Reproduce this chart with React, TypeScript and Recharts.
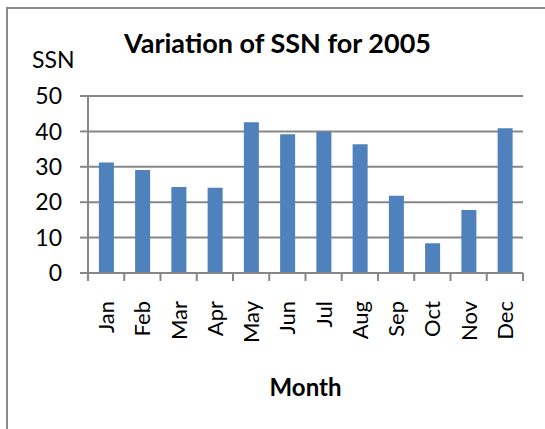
import React from 'react';
import { BarChart, Bar, XAxis, YAxis, CartesianGrid } from 'recharts';

const months = ['Jan', 'Feb', 'Mar', 'Apr', 'May', 'Jun', 'Jul', 'Aug', 'Sep', 'Oct', 'Nov', 'Dec'];
const ssn = [31.2, 29.1, 24.3, 24.1, 42.6, 39.2, 39.9, 36.4, 21.8, 8.4, 17.8, 40.9];
const yTicks = [0, 10, 20, 30, 40, 50];

const data = months.map((m, i) => ({ month: m, ssn: ssn[i] }));

const W = 545;
const H = 429;
const M = { top: 96, right: 22, left: 0, bottom: 0 };
const Y_W = 88;
const X_H = 156;
const BAND = (W - Y_W - M.right) / months.length;
const GRID = '#878787';
const FONT = 'Lato, Carlito, Calibri, sans-serif';

const XTick = (props: any) => {
  const { x, y, payload, index } = props;
  const left = x - BAND / 2;
  const right = x + BAND / 2;
  return (
    <g>
      <line x1={left} y1={y} x2={left} y2={y + 8} stroke={GRID} strokeWidth={2} />
      {index === months.length - 1 && (
        <line x1={right} y1={y} x2={right} y2={y + 8} stroke={GRID} strokeWidth={2} />
      )}
      <text
        x={x}
        y={y + 28}
        transform={`rotate(-90, ${x}, ${y + 28})`}
        textAnchor="end"
        dy="0.36em"
        fontSize={22}
        fontFamily={FONT}
        fill="#000"
      >
        {payload.value}
      </text>
    </g>
  );
};

export default function App() {
  return (
    <div style={{ position: 'fixed', left: 0, top: 0, width: W, height: H, overflow: 'hidden', background: '#fff' }}>
      <div
        style={{
          position: 'absolute',
          left: 6,
          top: 7,
          width: 700,
          height: 600,
          border: '2px solid #8a8a8a',
          boxSizing: 'border-box',
        }}
      />
      <div style={{ position: 'absolute', left: 0, top: 0 }}>
        <BarChart width={W} height={H} data={data} margin={M} barCategoryGap="30%">
          <CartesianGrid vertical={false} stroke={GRID} strokeWidth={2} />
          <XAxis
            dataKey="month"
            height={X_H}
            interval={0}
            tickLine={false}
            tickSize={0}
            tickMargin={0}
            axisLine={{ stroke: GRID, strokeWidth: 2 }}
            tick={<XTick />}
          />
          <YAxis
            width={Y_W}
            domain={[0, 50]}
            ticks={yTicks}
            interval={0}
            tickSize={8}
            tickMargin={18}
            tickLine={{ stroke: GRID, strokeWidth: 2 }}
            axisLine={{ stroke: GRID, strokeWidth: 2 }}
            tick={{ fontSize: 23, fontFamily: FONT, fill: '#000' }}
          />
          <Bar dataKey="ssn" fill="#4F81BD" isAnimationActive={false} />
        </BarChart>
      </div>
      <div style={{ position: 'absolute', left: 0, width: 545, top: 27, textAlign: 'center', paddingLeft: 10, boxSizing: 'border-box', fontFamily: FONT, fontWeight: 700, fontSize: 27, lineHeight: '32px', color: '#000' }}>
        Variation of SSN for 2005
      </div>
      <div style={{ position: 'absolute', left: 32, top: 45, fontFamily: FONT, fontSize: 23, lineHeight: '28px', color: '#000' }}>
        SSN
      </div>
      <div style={{ position: 'absolute', left: 88, width: 435, top: 372, textAlign: 'center', fontFamily: FONT, fontWeight: 700, fontSize: 24, lineHeight: '30px', color: '#000' }}>
        Month
      </div>
    </div>
  );
}
